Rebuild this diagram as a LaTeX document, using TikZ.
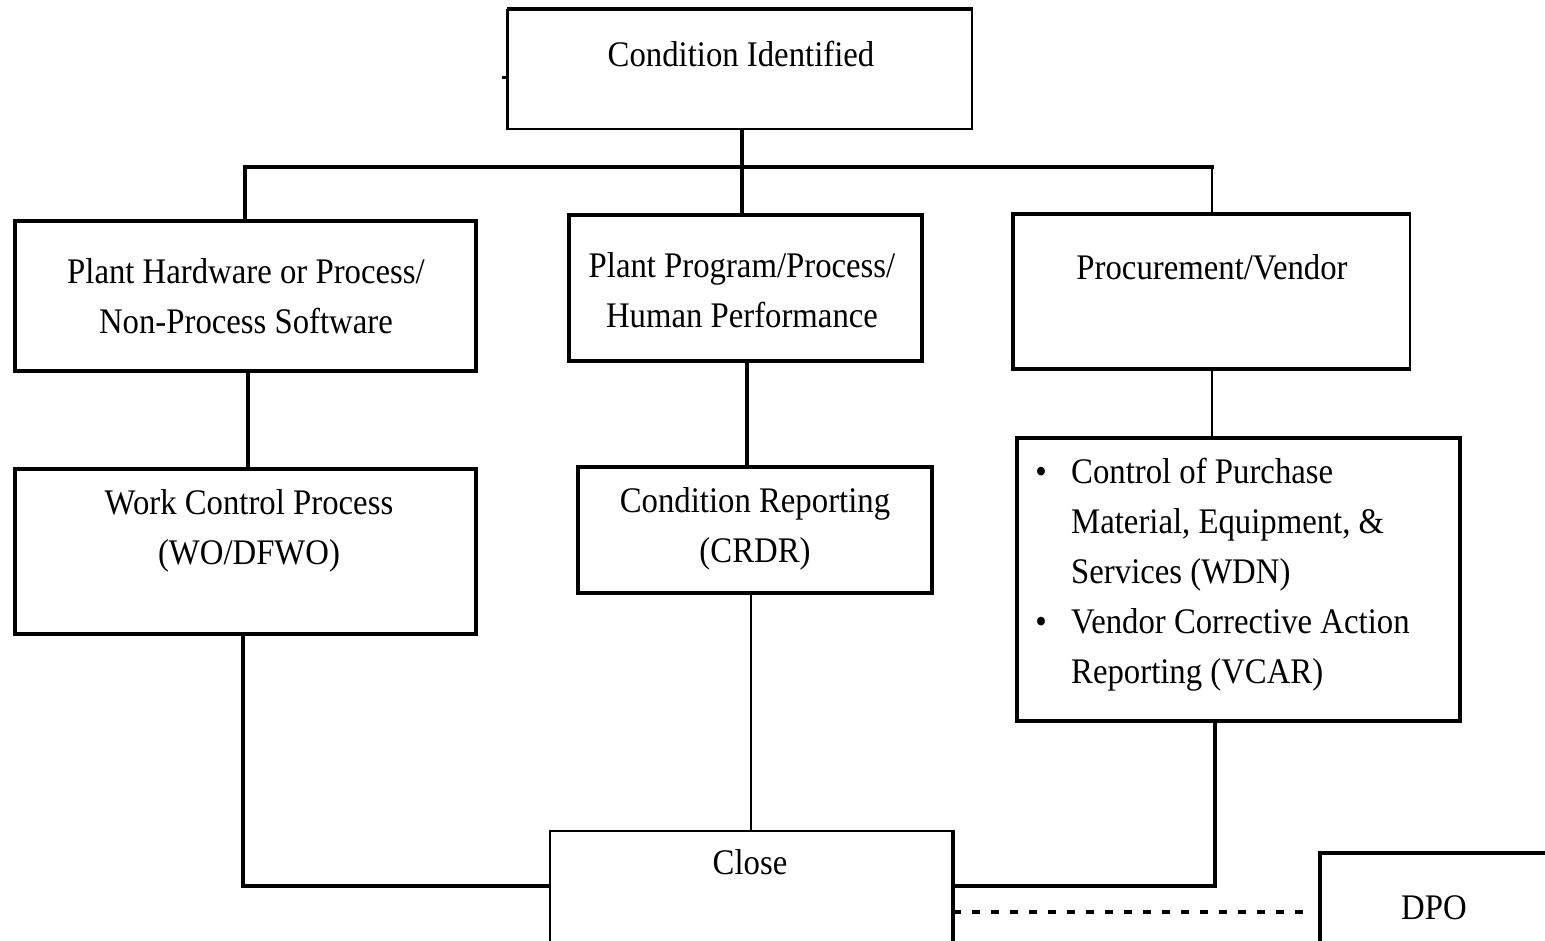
\documentclass[tikz,border=0pt]{standalone}
\usepackage{fontspec}
\setmainfont{Liberation Serif}[FakeStretch=0.91]
\usetikzlibrary{calc}

\tikzset{
  heavy/.style={line width=4pt, line cap=rect},
  light/.style={line width=2pt},
  boxthick/.style={draw, line width=4pt, inner sep=0pt},
  boxthin/.style={draw, line width=2pt, inner sep=0pt},
  txt/.style={inner sep=0pt, font=\fontsize{36}{50}\selectfont, align=center},
  dots/.style={line width=4pt, dash pattern=on 8pt off 11pt},
}

\begin{document}
\begin{tikzpicture}[x=1pt, y=-1pt]
\useasboundingbox (0,0) rectangle (1545,941);
\fill[white] (0,0) rectangle (1545,941);
\clip (0,0) rectangle (1545,941);

% ---- boxes ----
\node[boxthin, minimum width=464pt, minimum height=119pt] (ci)    at (740,69.5)   {};
\node[boxthick, minimum width=461pt, minimum height=150pt] (ph)   at (245.5,296)  {};
\node[boxthick, minimum width=461pt, minimum height=165pt] (wc)   at (245.5,551.5){};
\node[boxthick, minimum width=353pt, minimum height=146pt] (pp)   at (745.5,288)  {};
\node[boxthick, minimum width=354pt, minimum height=126pt] (cr)   at (755,530)    {};
\node[boxthin, minimum width=396pt, minimum height=153pt] (proc)  at (1212,291.5) {};
\node[boxthick, minimum width=443pt, minimum height=283pt] (ctrl) at (1238.5,579.5){};
\node[boxthin, minimum width=402pt, minimum height=169pt] (close) at (751,915.5)  {};
\node[boxthick, minimum width=280pt, minimum height=147pt] (dpo)  at (1460,926.5) {};

% heavier sides on some boxes
\draw[line width=4pt] (ci.north west) -- (ci.north east);
\draw[line width=3pt] (ci.north west) -- (ci.south west);
\draw[line width=4pt, line join=miter] (proc.south east) -- (proc.south west) -- (proc.north west) -- (proc.north east);
\draw[line width=4pt] (close.north east) -- (close.south east);

% ---- box texts ----
\node[txt, anchor=base] (t-ci) at (741,67) {Condition Identified};
\node[txt, anchor=base] (t-ph1) at (246,284) {Plant Hardware or Process/};
\node[txt, anchor=base] (t-ph2) at (246,334) {Non-Process Software};
\node[txt, anchor=base] (t-wc1) at (249,514) {Work Control Process};
\node[txt, anchor=base] (t-wc2) at (249,564) {(WO/DFWO)};
\node[txt, anchor=base] (t-pp1) at (742,278) {Plant Program/Process/};
\node[txt, anchor=base] (t-pp2) at (742,328) {Human Performance};
\node[txt, anchor=base] (t-cr1) at (755,512) {Condition Reporting};
\node[txt, anchor=base] (t-cr2) at (755,562) {(CRDR)};
\node[txt, anchor=base] (t-proc) at (1212,280) {Procurement/Vendor};
\node[txt, anchor=base west] (t-c1) at (1071,483) {Control of Purchase};
\node[txt, anchor=base west] (t-c2) at (1071,533) {Material, Equipment, \&};
\node[txt, anchor=base west] (t-c3) at (1071,583) {Services (WDN)};
\node[txt, anchor=base west] (t-c4) at (1071,633) {Vendor Corrective Action};
\node[txt, anchor=base west] (t-c5) at (1071,683) {Reporting (VCAR)};
\node[txt, anchor=base] (b1) at (1041,483) {•};
\node[txt, anchor=base] (b2) at (1041,633) {•};
\node[txt, anchor=base] (t-close) at (750,874) {Close};
\node[txt, anchor=base] (t-dpo) at (1434,919) {DPO};

% ---- connectors ----
\coordinate (busL) at (245,167);
\coordinate (busM) at (742,167);
\coordinate (busR) at (1212,167);
\coordinate (stub) at (502,78);
\coordinate (jL) at (243,886);
\coordinate (jR) at (1215,886);
\coordinate (dl) at (953,912);

\draw[line width=3pt] (stub) -- (stub -| ci.west);
\draw[heavy] (busL) -- (busR);
\draw[heavy] (ci.south -| busM) -- (busM) -- (busM |- pp.north);
\draw[heavy] (busL) -- (busL |- ph.north);
\draw[light] (busR) -- (busR |- proc.north);

\draw[heavy] ($(ph.south)+(2.5,0)$) -- ($(wc.north)+(2.5,0)$);
\draw[heavy] ($(pp.south)+(1.5,0)$) -- ($(pp.south |- cr.north)+(1.5,0)$);
\draw[light] (proc.south) -- (proc.south |- ctrl.north);
\draw[light] ($(cr.south)+(-4,0)$) -- ($(cr.south |- close.north)+(-4,0)$);

\draw[heavy] (wc.south -| jL) -- (jL) -- (jL -| close.west);
\draw[heavy] (ctrl.south -| jR) -- (jR) -- (jR -| close.east);
\draw[dots, shorten >=14pt] (dl -| close.east) -- (dl -| dpo.west);
\end{tikzpicture}
\end{document}
